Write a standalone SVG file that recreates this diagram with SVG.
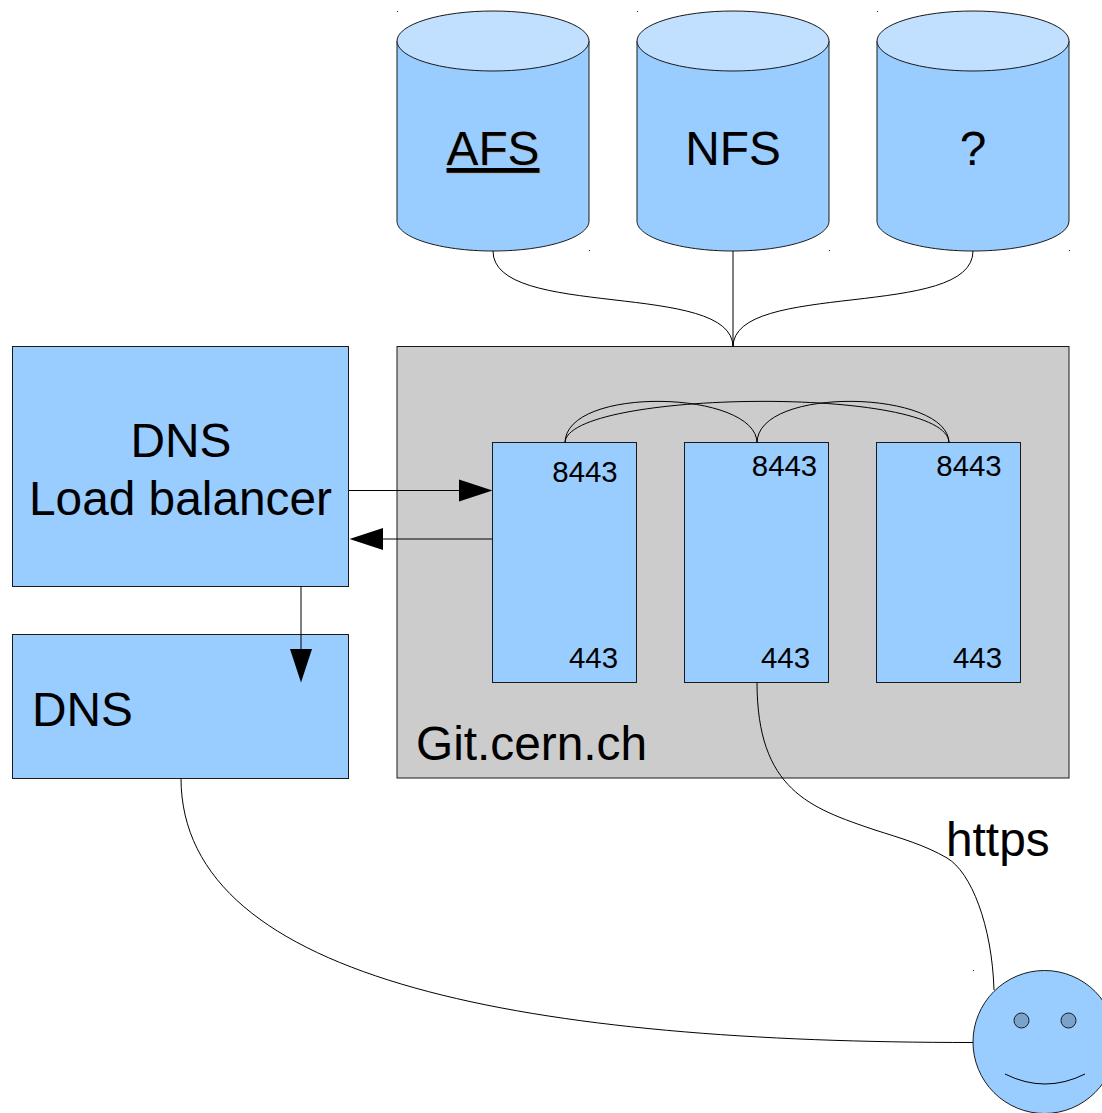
<svg xmlns="http://www.w3.org/2000/svg" width="1102" height="1113" viewBox="0 0 1102 1113">
<style>
.s{stroke:#1a1a1a;stroke-width:1;fill:#99ccff}
.g{fill:#cccccc}
.top{fill:#c1e0ff}
.c{fill:none;stroke:#000;stroke-width:1}
.a{fill:#000;stroke:none}
text{font-family:"Liberation Sans",Arial,sans-serif;fill:#000}
.big{font-size:47.8px}
.sm{font-size:29.4px}
.d{fill:#333;stroke:none}
</style>
<rect width="1102" height="1113" fill="#fff"/>
<g id="afs">
<path class="s" d="M397 41V221C397 237.500 440 251 493 251S589 237.500 589 221V41Z"/>
<ellipse class="s top" cx="493" cy="41" rx="96" ry="30"/>
<text x="494" y="166" class="big" text-anchor="middle" style="fill:#b3b3b3" text-decoration="underline">AFS</text>
<text x="493" y="165" class="big" text-anchor="middle" text-decoration="underline">AFS</text>
</g>
<g id="nfs">
<path class="s" d="M637 41V221C637 237.500 680 251 733 251S829 237.500 829 221V41Z"/>
<ellipse class="s top" cx="733" cy="41" rx="96" ry="30"/>
<text x="733" y="165" class="big" text-anchor="middle">NFS</text>
</g>
<g id="unknown">
<path class="s" d="M877 41V221C877 237.500 920 251 973 251S1069 237.500 1069 221V41Z"/>
<ellipse class="s top" cx="973" cy="41" rx="96" ry="30"/>
<text x="973" y="165" class="big" text-anchor="middle">?</text>
</g>
<g id="marks">
<rect class="d" x="397" y="11" width="1" height="1"/><rect class="d" x="637" y="11" width="1" height="1"/><rect class="d" x="877" y="11" width="1" height="1"/>
<rect class="d" x="589" y="250" width="1" height="1"/><rect class="d" x="829" y="250" width="1" height="1"/><rect class="d" x="1069" y="250" width="1" height="1"/>
<rect class="d" x="973" y="970" width="1" height="1"/>
</g>
<g id="git">
<rect class="s g" x="397" y="346.500" width="672" height="431.500"/>
<text x="416" y="760" class="big">Git.cern.ch</text>
</g>
<g id="lb">
<rect class="s" x="12.500" y="346.500" width="336" height="240"/>
<text x="181" y="457" class="big" text-anchor="middle">DNS</text>
<text x="180.500" y="515" class="big" text-anchor="middle">Load balancer</text>
</g>
<g id="dns">
<rect class="s" x="12.500" y="634.500" width="336" height="144"/>
<text x="32" y="726" class="big">DNS</text>
</g>
<g id="server1">
<rect class="s" x="492.500" y="442.500" width="144" height="240"/>
<text x="585" y="482" class="sm" text-anchor="middle">8443</text>
<text x="593.500" y="668" class="sm" text-anchor="middle">443</text>
</g>
<g id="server2">
<rect class="s" x="684.500" y="442.500" width="144" height="240"/>
<text x="784.500" y="476" class="sm" text-anchor="middle">8443</text>
<text x="785.500" y="668" class="sm" text-anchor="middle">443</text>
</g>
<g id="server3">
<rect class="s" x="876.500" y="442.500" width="144" height="240"/>
<text x="969" y="476" class="sm" text-anchor="middle">8443</text>
<text x="977.500" y="668" class="sm" text-anchor="middle">443</text>
</g>
<g id="user">
<circle class="s" cx="1044.500" cy="1042" r="71.500"/>
<circle class="s" cx="1021.500" cy="1020.500" r="7.500" style="fill:#7aa3cc"/>
<circle class="s" cx="1068.500" cy="1020.500" r="7.500" style="fill:#7aa3cc"/>
<path class="c" d="M1005 1074Q1045 1094 1085 1074"/>
</g>
<text id="https" x="946" y="856" class="big">https</text>
<g id="connectors">
<path class="c" d="M493 251C493 320 733 280 733 347"/>
<path class="c" d="M733 251V347"/>
<path class="c" d="M973 251C973 320 733 280 733 347"/>
<path class="c" d="M565 443C565 385 757 390 757 443"/>
<path class="c" d="M565 443C565 390 949 385 949 443"/>
<path class="c" d="M757 443C757 385 949 390 949 443"/>
<path class="c" d="M349 490.500H460"/>
<path class="a" d="M492.500 490.500L459 479.500V501.500Z"/>
<path class="c" d="M493 539H382"/>
<path class="a" d="M349.500 539L383 528V550Z"/>
<path class="c" d="M301 586V650"/>
<path class="a" d="M301 682.500L290 649H312Z"/>
<path class="c" d="M757 682C757 790 810 808 875 830C900 838 925 845 947 858C971 872 992 925 994 990"/>
<path class="c" d="M181 778C181 985 540 1042.500 973 1042.500"/>
</g>
</svg>
